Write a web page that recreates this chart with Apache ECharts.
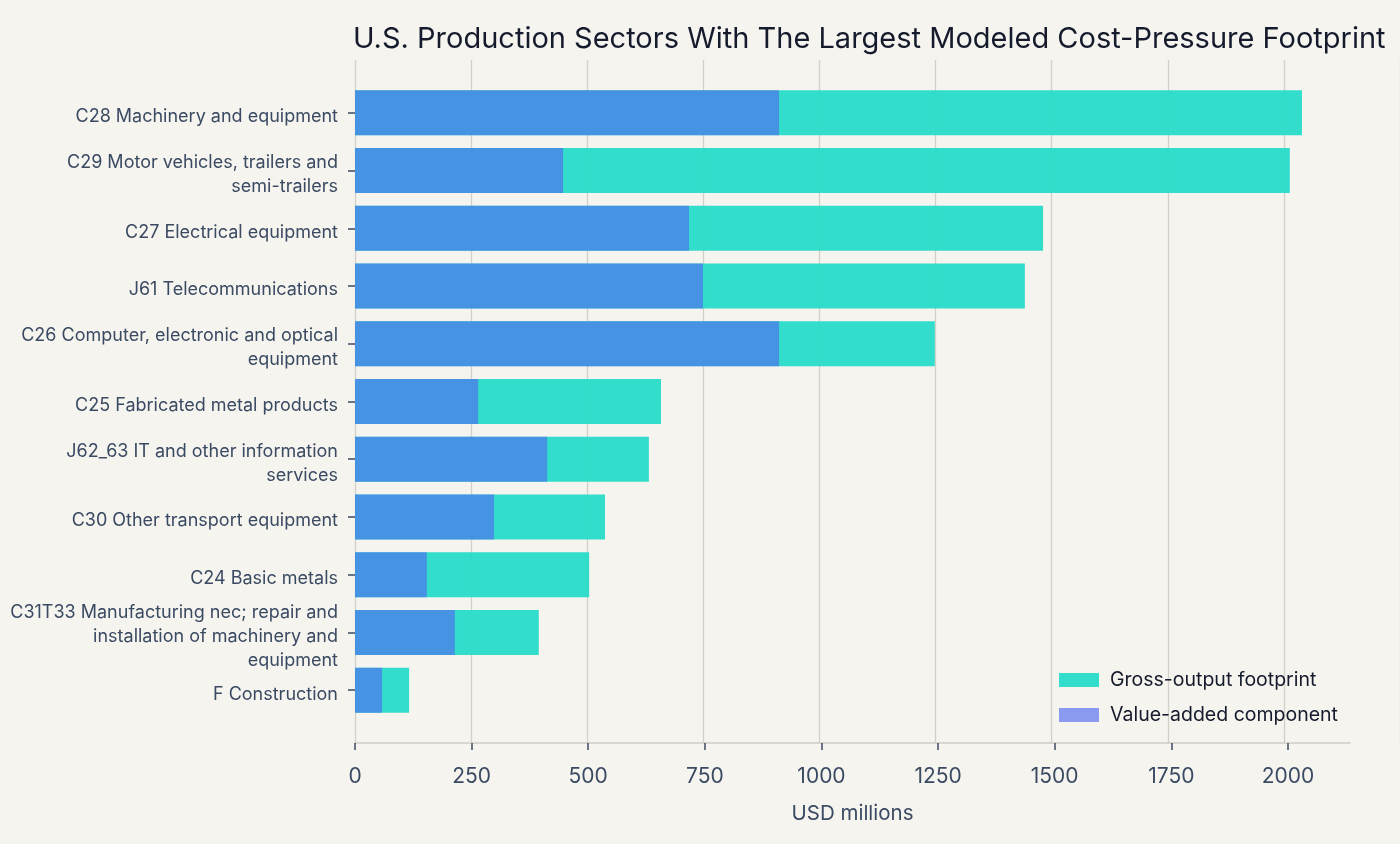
<!DOCTYPE html>
<html lang="en">
<head>
    <meta charset="UTF-8">
    <title>Cost-Pressure Footprint</title>
    <script src="https://cdn.jsdelivr.net/npm/echarts@6/dist/echarts.min.js"></script>
    <style>
        body, html {
            margin: 0;
            height: 100%;
            background: #f5f4ef;
        }

        #chart {
            width: 1400px;
            height: 844px;
        }
    </style>
</head>
<body>
<div id="chart"></div>
<script>
    // sectors, top to bottom
    const sectors = [
        'C28 Machinery and equipment',
        'C29 Motor vehicles, trailers and\nsemi-trailers',
        'C27 Electrical equipment',
        'J61 Telecommunications',
        'C26 Computer, electronic and optical\nequipment',
        'C25 Fabricated metal products',
        'J62_63 IT and other information\nservices',
        'C30 Other transport equipment',
        'C24 Basic metals',
        'C31T33 Manufacturing nec; repair and\ninstallation of machinery and\nequipment',
        'F Construction'
    ];
    const grossOutput = [2030, 2004, 1475, 1436, 1243, 656, 630, 536, 502, 394, 116];
    const valueAdded = [909, 446, 716, 746, 909, 264, 412, 298, 154, 214, 58];
    const xTicks = [0, 250, 500, 750, 1000, 1250, 1500, 1750, 2000];

    const textColor = '#3b4a63';
    const chart = echarts.init(document.getElementById('chart'));

    const option = {
        backgroundColor: '#f5f4ef',
        textStyle: {fontFamily: 'Inter'},
        title: {
            text: 'U.S. Production Sectors With The Largest Modeled Cost-Pressure Footprint',
            left: 348,
            top: 20,
            textStyle: {fontSize: 29, fontWeight: 'normal', color: '#151b2c', fontFamily: 'Inter'}
        },
        legend: {
            orient: 'vertical',
            left: 1054,
            top: 665,
            icon: 'rect',
            itemWidth: 40,
            itemHeight: 14,
            itemGap: 15,
            itemStyle: {borderWidth: 0},
            textStyle: {fontSize: 19.5, color: '#151b2c', padding: [0, 0, 0, 6]},
            data: ['Gross-output footprint', 'Value-added component']
        },
        grid: [
            // bars
            {left: 355, width: 995, top: 84, height: 635},
            // grid lines over the full plot height
            {left: 355, width: 1050, top: 60, height: 683}
        ],
        xAxis: [
            {
                gridIndex: 0,
                type: 'value',
                min: 0,
                max: 2133,
                offset: 24,
                name: 'USD millions',
                nameLocation: 'middle',
                nameGap: 60,
                nameTextStyle: {fontSize: 20.5, color: textColor},
                axisLine: {show: true, lineStyle: {color: '#cfccc6', width: 1.5}},
                axisTick: {show: true, length: 7, customValues: xTicks, lineStyle: {color: textColor, width: 1.5}},
                axisLabel: {fontSize: 21, color: textColor, margin: 23, customValues: xTicks,
                    formatter: function (v) { return String(v); }},
                splitLine: {show: false}
            },
            {
                gridIndex: 1,
                type: 'value',
                min: 0,
                max: 2250,
                interval: 250,
                axisLine: {show: false},
                axisTick: {show: false},
                axisLabel: {show: false},
                splitLine: {show: true, lineStyle: {color: '#d3d0ca', width: 1.3}}
            }
        ],
        yAxis: [
            {
                gridIndex: 0,
                type: 'category',
                inverse: true,
                data: sectors,
                axisLine: {show: false},
                axisTick: {show: true, alignWithLabel: true, length: 7, lineStyle: {color: textColor, width: 1.5}},
                axisLabel: {
                    fontSize: 18, color: textColor, margin: 17, lineHeight: 24, align: 'right',
                    // small spacer line on top nudges the label a few px down
                    formatter: function (v) {
                        return '{s| }\n' + v.split('\n').map(function (l) { return '{t|' + l + '}'; }).join('\n');
                    },
                    rich: {
                        s: {fontSize: 1, lineHeight: 8},
                        t: {fontSize: 18, lineHeight: 24, color: textColor, align: 'right'}
                    }
                }
            },
            {
                gridIndex: 1,
                type: 'value',
                show: false
            }
        ],
        series: [
            {
                name: 'Gross-output footprint',
                type: 'bar',
                xAxisIndex: 0,
                yAxisIndex: 0,
                barWidth: 45,
                barGap: '-100%',
                z: 3,
                itemStyle: {color: 'rgba(40,219,200,0.95)'},
                data: grossOutput
            },
            {
                name: 'Value-added component',
                type: 'bar',
                xAxisIndex: 0,
                yAxisIndex: 0,
                barWidth: 45,
                barGap: '-100%',
                z: 4,
                itemStyle: {color: 'rgba(80,108,240,0.66)'},
                data: valueAdded
            }
        ]
    };

    chart.setOption(option);
</script>
</body>
</html>
